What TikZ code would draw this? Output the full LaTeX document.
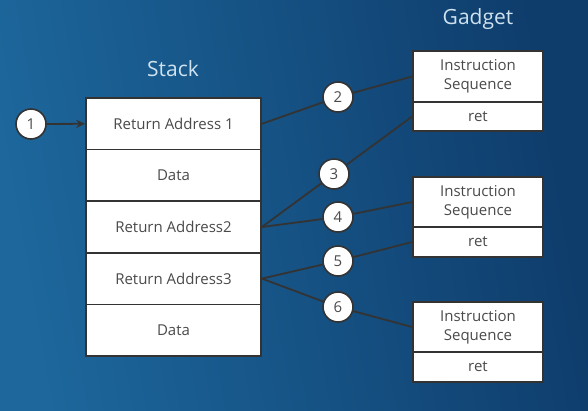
\documentclass[tikz,border=0pt]{standalone}
\usepackage{fontspec}
\setmainfont{Open Sans}
\usetikzlibrary{arrows.meta}
\definecolor{bgL}{HTML}{1D679C}
\definecolor{bgR}{HTML}{0E3C6B}
\definecolor{ink}{HTML}{333333}
\definecolor{txt}{HTML}{4A4A4A}
\definecolor{title}{HTML}{CFE2EF}
\begin{document}
\begin{tikzpicture}[x=1pt,y=-1pt,
  cell/.style={draw=ink,line width=1.6pt,fill=white,minimum width=175pt,minimum height=51.6pt,inner sep=0pt,text=txt,font=\fontsize{15}{17}\selectfont,align=center},
  gcell/.style={draw=ink,line width=1.6pt,fill=white,minimum width=130pt,inner sep=0pt,text=txt,font=\fontsize{15}{19}\selectfont,align=center},
  num/.style={circle,draw=ink,line width=1.6pt,fill=white,minimum size=30pt,inner sep=0pt,text=txt,font=\fontsize{15}{17}\selectfont},
  lbl/.style={text=title,font=\fontsize{21}{24}\selectfont},
  link/.style={draw=ink,line width=1.8pt}]
\shade[left color=bgL,right color=bgR,shading angle=100] (0,0) rectangle (588,410);
\useasboundingbox (0,0) rectangle (588,410);
% titles
\node[lbl] (stack) at (173,69) {Stack};
\node[lbl] (gadget) at (478,19) {Gadget};
% stack
\node[cell] (ra1) at (173.5,123.8) {Return Address 1};
\node[cell] (d1) at (173.5,175.4) {Data};
\node[cell] (ra2) at (173.5,227) {Return Address2};
\node[cell] (ra3) at (173.5,278.6) {Return Address3};
\node[cell] (d2) at (173.5,330.2) {Data};
% gadgets
\node[gcell,minimum height=51pt] (g1s) at (478,76.5) {Instruction\\Sequence};
\node[gcell,minimum height=29pt] (g1r) at (478,116.5) {ret};
\node[gcell,minimum height=50pt] (g2s) at (478,202) {Instruction\\Sequence};
\node[gcell,minimum height=30pt] (g2r) at (478,242) {ret};
\node[gcell,minimum height=50pt] (g3s) at (478,327) {Instruction\\Sequence};
\node[gcell,minimum height=30pt] (g3r) at (478,367) {ret};
% numbered circles
\node[num] (c1) at (31,124) {1};
\node[num] (c2) at (338,97) {2};
\node[num] (c3) at (334,174) {3};
\node[num] (c4) at (338,217) {4};
\node[num] (c5) at (338,261) {5};
\node[num] (c6) at (338,307) {6};
% connectors
\draw[link,-{Stealth[length=9pt,width=8pt]}] (c1) -- (ra1.west);
\draw[link] (ra1.east) -- (c2) -- (g1s.west);
\draw[link] (ra2.east) -- (c3) -- (g1r.west);
\draw[link] (ra2.east) -- (c4) -- (g2s.west);
\draw[link] (ra3.east) -- (c5) -- (g2r.west);
\draw[link] (ra3.east) -- (c6) -- (g3s.west);
\end{tikzpicture}
\end{document}
